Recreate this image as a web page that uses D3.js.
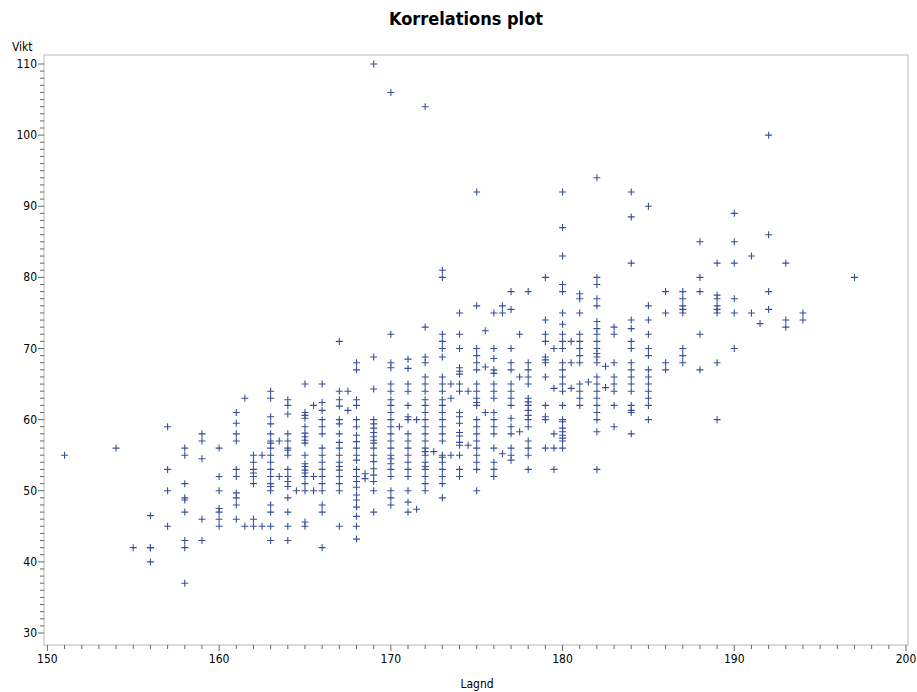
<!DOCTYPE html>
<html>
<head>
<meta charset="utf-8">
<script src="https://cdn.jsdelivr.net/npm/d3@7"></script>
<style>
  body { margin: 0; background: #fff; }
  text { font-family: "DejaVu Sans Condensed", "Liberation Sans Narrow", "Liberation Sans", Arial, sans-serif; font-stretch: condensed; fill: #000; }
</style>
</head>
<body>
<script>
var width = 917, height = 692;

// lengths (x) and the weights seen at each length
var lagnd = [151, 154, 155, 156, 157, 158, 159, 160, 161, 161.5, 162, 162.5, 163, 163.5, 164, 164.5,
  165, 165.5, 166, 167, 167.5, 168, 168.5, 169, 170, 170.5, 171, 171.5, 172, 172.5, 173, 173.5,
  174, 174.5, 175, 175.5, 176, 176.5, 177, 177.5, 178, 179, 179.5, 180, 180.5, 181, 181.5, 182,
  182.5, 183, 184, 185, 186, 187, 188, 189, 190, 191, 191.5, 192, 193, 194, 197];

var vikt = [
  [55],
  [56],
  [42],
  [46.5, 42, 42, 40],
  [59, 53, 50, 45],
  [56, 55, 51, 49, 48.7, 47, 43, 42, 37],
  [58, 57, 54.5, 46, 43],
  [56, 52, 50, 47.5, 47, 46, 45],
  [61, 59.5, 58, 57, 53, 52, 49.7, 49, 48, 46],
  [63, 45],
  [55, 54, 53, 52.5, 52, 51, 46, 45],
  [55, 45],
  [64, 63, 60.4, 59.4, 58, 57, 56.7, 56, 55, 54, 53, 52, 51, 50.6, 50, 48, 47, 45, 43],
  [57, 52],
  [62.8, 62, 60.8, 58, 57, 56, 55.7, 55, 53, 52, 51.3, 50.6, 49, 47, 45, 43],
  [50],
  [65, 61, 60.6, 60.2, 59, 58.1, 57.6, 57.1, 56.7, 55, 53.8, 53.4, 52.9, 52.5, 52, 51, 50, 45.6, 45],
  [62, 52, 50],
  [65, 62.4, 61.3, 60, 59, 58, 56, 55, 54, 53, 52, 51, 50, 48, 47, 42],
  [71, 64, 62.8, 61.9, 60, 59.4, 58, 56.8, 56, 55, 54, 53.4, 52.9, 52, 51, 50, 45],
  [64, 61.3],
  [68, 67, 62.8, 62, 60, 59, 57.8, 56.9, 56, 55, 54.3, 53, 52, 51.3, 50.5, 49.4, 48.7, 47.7, 46.4, 45, 43.2],
  [52.4, 51.7],
  [110, 68.8, 64.3, 60, 59.4, 58.8, 58.2, 57.6, 57.1, 56.7, 56, 55, 54.1, 53.1, 52.2, 51.3, 50, 47],
  [106, 72, 68, 67.3, 65, 64, 62.8, 62, 61, 60, 59, 58, 57, 56, 55, 54.5, 53.8, 53, 52, 50, 49, 48],
  [59],
  [68.5, 67.2, 65, 64, 62, 60.4, 60, 58, 57, 56, 55, 54, 53, 52, 50, 48.4, 47],
  [60, 47.4],
  [104, 73, 68.8, 68, 66, 65, 64, 62.8, 62, 61, 60, 59, 58, 57, 56, 55.5, 55, 54, 53.4, 53, 52, 51, 50],
  [55.5],
  [81, 80, 72, 71, 70, 68.8, 66, 65, 64, 62.8, 62, 61, 60, 59, 58, 57, 55, 54.7, 54, 53, 52, 51, 49],
  [65, 63, 55],
  [75, 72, 70, 67.3, 66.8, 66.4, 65, 64, 61, 60.4, 59.5, 58.2, 57.7, 56.8, 56.4, 55, 53, 52],
  [64, 56.4],
  [92, 76, 70, 69, 68, 67, 65, 64, 63, 62.4, 62, 60, 59, 58, 57, 56, 55, 54, 53, 50],
  [72.5, 67.4, 61],
  [75, 70, 68.6, 67, 66.5, 65, 64, 63, 61, 60, 59, 58, 56, 54, 53, 52],
  [76, 75, 55.2],
  [78, 75.5, 70, 68, 67, 65, 64, 63, 62, 60.2, 59, 58, 56, 55, 54.3],
  [72, 66, 58.3],
  [78, 68, 67, 66, 65, 63, 62.5, 62, 61.3, 60.6, 60, 59, 57, 56, 55, 53],
  [80, 74, 72, 71, 68.8, 68.4, 68, 66, 62, 60.4, 60, 56],
  [70, 64.4, 58, 56, 53],
  [92, 87, 83, 79, 78, 75, 73.4, 72, 71, 70, 68, 67, 66, 65, 64, 62, 60, 59.7, 58.8, 58.3, 57.8, 57.4, 57, 56],
  [71, 68, 64.4],
  [77.7, 77, 75, 72, 71, 70, 69, 68, 65, 64, 63, 62],
  [65.3],
  [94, 80, 79, 77, 76, 73.8, 72.8, 72, 71, 70, 69.3, 68.8, 68, 66, 65, 64, 63, 62, 61, 60, 58.3, 53],
  [67.5, 64.5],
  [73, 72, 68, 66, 65, 64, 62, 59],
  [92, 88.5, 82, 74, 72.8, 71, 70, 68, 67, 66, 65, 64, 62, 61.3, 61, 58],
  [90, 76, 74, 72, 70, 69, 67, 66, 65, 64, 63, 62, 60],
  [78, 75, 68, 67],
  [78, 77, 76, 75.5, 75, 70, 69, 68],
  [85, 80, 78, 72, 67],
  [82, 77.5, 77, 76, 75.5, 75, 68, 60],
  [89, 85, 82, 77, 75, 70],
  [83, 75],
  [73.5],
  [100, 86, 78, 75.5],
  [82, 74, 73],
  [75, 74],
  [80]
];

var xTicks = [150, 160, 170, 180, 190, 200];
var yTicks = [30, 40, 50, 60, 70, 80, 90, 100, 110];

var points = [];
lagnd.forEach(function(l, i) {
  vikt[i].forEach(function(v) { points.push({ x: l, y: v }); });
});

var frame = { left: 44, right: 908, top: 55, bottom: 645 };

var x = d3.scaleLinear().domain([150, 200]).range([47.4, 906]);
var y = d3.scaleLinear().domain([30, 110]).range([633, 64]);

var svg = d3.select(document.body).append("svg")
  .attr("width", width).attr("height", height);

svg.append("text")
  .attr("x", 466).attr("y", 25)
  .attr("text-anchor", "middle")
  .style("font-size", "18px").style("font-weight", "bold")
  .text("Korrelations plot");

// frame
svg.append("rect")
  .attr("x", frame.left).attr("y", frame.top)
  .attr("width", frame.right - frame.left).attr("height", frame.bottom - frame.top)
  .attr("fill", "none").attr("stroke", "#b8b8b8").attr("stroke-width", 1);

// x axis ticks
var xg = svg.append("g").attr("transform", "translate(0," + frame.bottom + ")");
xg.selectAll("line.minor").data(d3.range(150, 201, 1)).enter().append("line")
  .attr("x1", function(d) { return x(d); }).attr("x2", function(d) { return x(d); })
  .attr("y1", 0).attr("y2", function(d) { return d % 10 === 0 ? 6 : 4; })
  .attr("stroke", "#666").attr("stroke-width", 1);
xg.selectAll("text").data(xTicks).enter().append("text")
  .attr("x", function(d) { return x(d); }).attr("y", 18)
  .attr("text-anchor", "middle").style("font-size", "12px")
  .text(function(d) { return d; });

svg.append("text")
  .attr("x", 477).attr("y", 688)
  .attr("text-anchor", "middle").style("font-size", "12px")
  .text("Lagnd");

// y axis ticks
var yg = svg.append("g").attr("transform", "translate(" + frame.left + ",0)");
yg.selectAll("line.minor").data(d3.range(30, 111, 1)).enter().append("line")
  .attr("y1", function(d) { return y(d); }).attr("y2", function(d) { return y(d); })
  .attr("x1", 0).attr("x2", function(d) { return d % 10 === 0 ? -6 : -4; })
  .attr("stroke", "#666").attr("stroke-width", 1);
yg.selectAll("text").data(yTicks).enter().append("text")
  .attr("x", -7).attr("y", function(d) { return y(d) + 4; })
  .attr("text-anchor", "end").style("font-size", "12px")
  .text(function(d) { return d; });

svg.append("text")
  .attr("x", 12).attr("y", 51)
  .style("font-size", "12px")
  .text("Vikt");

// markers
var s = 3.5;
var marks = svg.append("g").attr("stroke", "#3a4f96").attr("stroke-width", 1.1);
marks.selectAll("path").data(points).enter().append("path")
  .attr("d", function(d) {
    var px = x(d.x), py = y(d.y);
    return "M" + (px - s) + "," + py + "H" + (px + s) + "M" + px + "," + (py - s) + "V" + (py + s);
  });
</script>
</body>
</html>
